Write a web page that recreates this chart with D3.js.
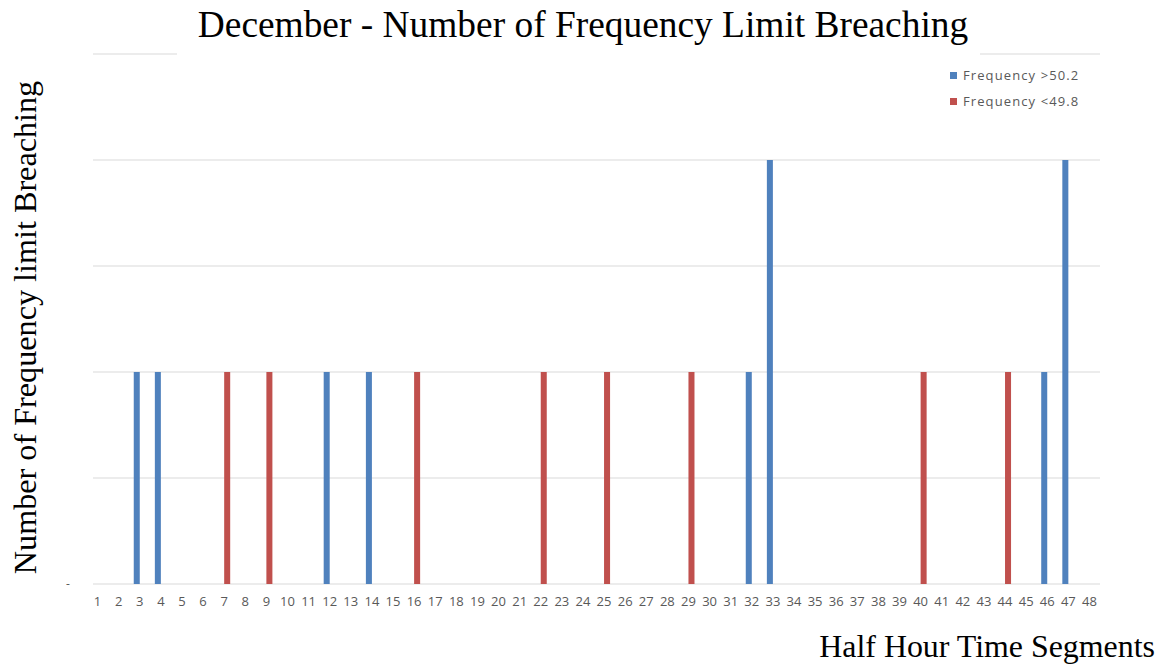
<!DOCTYPE html>
<html>
<head>
<meta charset="utf-8">
<script src="https://cdn.jsdelivr.net/npm/d3@7"></script>
<style>
  html, body { margin: 0; padding: 0; background: #fff; }
  svg { display: block; }
</style>
</head>
<body>
<svg id="chart" width="1162" height="666"></svg>
<script>
// Half-hour segments of the day
const segments = d3.range(1, 49);

// Breach counts per segment
const above502 = [0,0,2,2,0,0,0,0,0,0,0,2,0,2,0,0,0,0,0,0,0,0,0,0,0,0,0,0,0,0,0,2,4,0,0,0,0,0,0,0,0,0,0,0,0,2,4,0];
const below498 = [0,0,0,0,0,0,2,0,2,0,0,0,0,0,0,2,0,0,0,0,0,2,0,0,2,0,0,0,2,0,0,0,0,0,0,0,0,0,0,2,0,0,0,2,0,0,0,0];

const seriesNames = ["Frequency >50.2", "Frequency <49.8"];
const seriesColors = ["#4F81BD", "#C0504D"];
const yTicks = [0, 1, 2, 3, 4, 5];

const svg = d3.select("#chart");
const plotLeft = 87, plotRight = 1100, plotTop = 54, plotBottom = 584;

const x = d3.scaleBand().domain(segments).range([plotLeft, plotRight]).paddingInner(0.43).paddingOuter(0.215);
const xSub = d3.scaleBand().domain(seriesNames).range([0, x.bandwidth()]);
const y = d3.scaleLinear().domain([0, 5]).range([plotBottom, plotTop]);

// Horizontal gridlines
svg.append("g").selectAll("line").data(yTicks).join("line")
  .attr("x1", 93).attr("x2", plotRight)
  .attr("y1", d => y(d)).attr("y2", d => y(d))
  .attr("stroke", "#D9D9D9").attr("stroke-width", 1);

// Zero label on the value axis
svg.append("text").attr("x", 68).attr("y", y(0) + 4)
  .attr("font-family", "Open Sans, sans-serif").attr("font-size", 12)
  .attr("fill", "#595959").attr("text-anchor", "middle").text("-");

// Bars
const rows = segments.map((s, i) => ({ s, vals: [above502[i], below498[i]] }));
const groups = svg.append("g").selectAll("g").data(rows).join("g")
  .attr("transform", d => `translate(${x(d.s)},0)`);
groups.selectAll("rect")
  .data(d => d.vals.map((v, k) => ({ v, name: seriesNames[k], color: seriesColors[k] })).filter(e => e.v > 0))
  .join("rect")
  .attr("x", e => xSub(e.name))
  .attr("width", xSub.bandwidth())
  .attr("y", e => y(e.v))
  .attr("height", e => y(0) - y(e.v))
  .attr("fill", e => e.color);

// Category axis labels
const xAxis = d3.axisBottom(x).tickSize(0).tickPadding(13);
const gx = svg.append("g").attr("transform", `translate(0,${plotBottom})`).call(xAxis);
gx.select(".domain").remove();
gx.selectAll("text")
  .attr("font-family", "Open Sans, sans-serif").attr("font-size", 13)
  .attr("fill", "#595959");

// Title with white backing
const title = svg.append("g");
title.append("rect").attr("x", 177).attr("y", 0).attr("width", 803).attr("height", 62).attr("fill", "#fff");
title.append("text").attr("x", 583).attr("y", 37)
  .attr("text-anchor", "middle")
  .attr("font-family", "Liberation Serif, Times New Roman, serif").attr("font-size", 37.4)
  .attr("fill", "#000").text("December - Number of Frequency Limit Breaching");

// Axis titles
svg.append("text")
  .attr("transform", "translate(36,327.5) rotate(-90)")
  .attr("text-anchor", "middle")
  .attr("font-family", "Liberation Serif, Times New Roman, serif").attr("font-size", 32.2)
  .attr("fill", "#000").text("Number of Frequency limit Breaching");
svg.append("text").attr("x", 1155).attr("y", 657)
  .attr("text-anchor", "end")
  .attr("font-family", "Liberation Serif, Times New Roman, serif").attr("font-size", 31.9)
  .attr("fill", "#000").text("Half Hour Time Segments");

// Legend
const legend = svg.append("g").selectAll("g").data(seriesNames).join("g")
  .attr("transform", (d, i) => `translate(950,${72 + i * 26})`);
legend.append("rect").attr("width", 7).attr("height", 7).attr("fill", (d, i) => seriesColors[i]);
legend.append("text").attr("x", 13).attr("y", 8)
  .attr("font-family", "Open Sans, sans-serif").attr("font-size", 13)
  .attr("letter-spacing", 1.1)
  .attr("fill", "#595959").text(d => d);
</script>
</body>
</html>
